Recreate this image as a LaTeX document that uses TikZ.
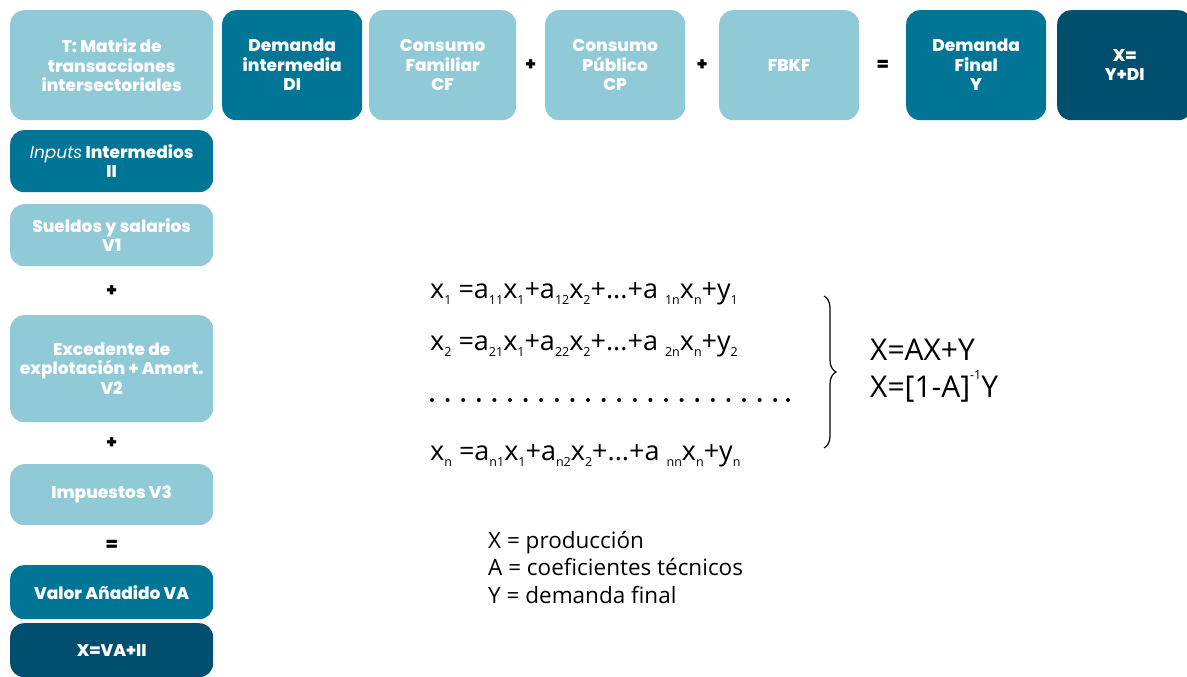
\documentclass[tikz,border=0pt]{standalone}
\usepackage{fontspec}
\setmainfont{Poppins}[BoldFont={Poppins ExtraBold}]
\newfontfamily\eqfont{Open Sans}
\usetikzlibrary{positioning, calc, decorations.pathreplacing}
\definecolor{lightteal}{HTML}{90CAD6}
\definecolor{midteal}{HTML}{007596}
\definecolor{darkteal}{HTML}{004F6E}
\newcommand{\sbs}[1]{\raisebox{-0.25em}{\fontsize{12.5}{12.5}\selectfont #1}}
\newcommand{\sps}[1]{\raisebox{0.6em}{\fontsize{12.5}{12.5}\selectfont #1}}
\tikzset{
    cell/.style = {rounded corners=14pt, text=white, inner sep=0pt,
        font=\fontsize{17}{19.5}\selectfont\bfseries, align=center, anchor=north west},
    light/.style = {cell, fill=lightteal},
    mid/.style = {cell, fill=midteal},
    dark/.style = {cell, fill=darkteal},
    op/.style = {font=\fontsize{18}{20}\selectfont\bfseries, text=black},
    eq/.style = {font=\eqfont\fontsize{27}{30}\selectfont, anchor=base west, inner sep=0pt},
    sol/.style = {eq, font=\eqfont\fontsize{30}{34}\selectfont},
    note/.style = {font=\eqfont\fontsize{22.5}{27.5}\selectfont, align=left, anchor=north west, inner sep=0pt},
}

\begin{document}
\begin{tikzpicture}[x=1pt, y=-1pt]
        \useasboundingbox (0,0) rectangle (1187,677);
        \node (t) [light, minimum width=203pt, minimum height=110pt] at (10,10) {T: Matriz de\\transacciones\\intersectoriales};
        \node (di) [mid, minimum width=140pt, minimum height=110pt] at (222,10) {Demanda\\intermedia\\DI};
        \node (cf) [light, minimum width=147pt, minimum height=110pt] at (369,10) {Consumo\\Familiar\\CF};
        \node (cp) [light, minimum width=140pt, minimum height=110pt] at (545,10) {Consumo\\Público\\CP};
        \node (fbkf) [light, minimum width=140pt, minimum height=110pt] at (719,10) {FBKF};
        \node (y) [mid, minimum width=140pt, minimum height=110pt] at (906,10) {Demanda\\Final\\Y};
        \node (x) [dark, minimum width=135pt, minimum height=110pt] at (1057,10) {X=\\Y+DI};
        \node (p1) [op] at ($(cf.east)!0.5!(cp.west)$) {+};
        \node (p2) [op] at ($(cp.east)!0.5!(fbkf.west)$) {+};
        \node (q1) [op] at ($(fbkf.east)!0.5!(y.west)$) {=};

        \node (ii) [mid, minimum width=203pt, minimum height=62pt] at (10,130) {{\mdseries\itshape Inputs} Intermedios\\II};
        \node (v1) [light, minimum width=203pt, minimum height=62pt] at (10,204) {Sueldos y salarios\\V1};
        \node (v2) [light, minimum width=203pt, minimum height=107pt] at (10,315) {Excedente de\\explotación + Amort.\\V2};
        \node (v3) [light, minimum width=203pt, minimum height=61pt] at (10,464) {Impuestos V3};
        \node (va) [mid, minimum width=203pt, minimum height=54pt] at (10,565) {Valor Añadido VA};
        \node (xva) [dark, minimum width=203pt, minimum height=54pt] at (10,623) {X=VA+II};
        \node (p3) [op] at ($(v1.south)!0.5!(v2.north)$) {+};
        \node (p4) [op] at ($(v2.south)!0.5!(v3.north)$) {+};
        \node (q2) [op] at ($(v3.south)!0.5!(va.north)$) {=};

        \node (e1) [eq] at (430,298) {x\sbs{1} =a\sbs{11}x\sbs{1}+a\sbs{12}x\sbs{2}+...+a \sbs{1n}x\sbs{n}+y\sbs{1}};
        \node (e2) [eq] at (430,350) {x\sbs{2} =a\sbs{21}x\sbs{1}+a\sbs{22}x\sbs{2}+...+a \sbs{2n}x\sbs{n}+y\sbs{2}};
        \foreach \i in {0,...,22}
            \fill (432+\i*15.6,400) circle (2pt);
        \fill (788,400) circle (2pt);
        \node (en) [eq] at (430,460) {x\sbs{n} =a\sbs{n1}x\sbs{1}+a\sbs{n2}x\sbs{2}+...+a \sbs{nn}x\sbs{n}+y\sbs{n}};

        \coordinate (bt) at (824,296);
        \coordinate (bb) at (824,448);
        \draw [line width=1.2pt, decorate, decoration={brace, amplitude=12pt}] (bt) -- (bb);
        \node (sol1) [sol] at (870,360) {X=AX+Y};
        \node (sol2) [sol] at (870,397) {X=[1-A]\sps{-1}Y};

        \node (leg) [note] at (488,531) {X = producción\\A = coeficientes técnicos\\Y = demanda final};
\end{tikzpicture}
\end{document}
